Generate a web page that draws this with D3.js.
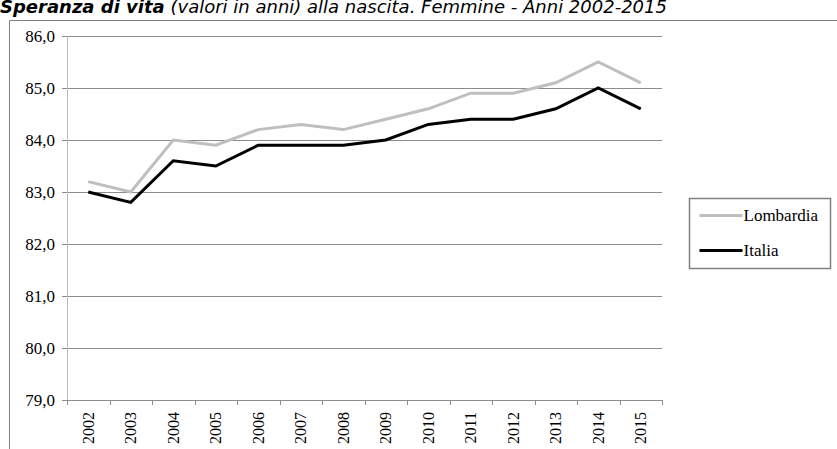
<!DOCTYPE html>
<html>
<head>
<meta charset="utf-8">
<script src="https://cdn.jsdelivr.net/npm/d3@7"></script>
<style>
  body { margin: 0; background: #fff; }
  svg { display: block; }
</style>
</head>
<body>
<div id="chart"></div>
<script>
// data
var years = ["2002", "2003", "2004", "2005", "2006", "2007", "2008",
  "2009", "2010", "2011", "2012", "2013", "2014", "2015"];
var lombardia = [83.2, 83.0, 84.0, 83.9, 84.2, 84.3, 84.2, 84.4, 84.6, 84.9, 84.9, 85.1, 85.5, 85.1];
var italia = [83.0, 82.8, 83.6, 83.5, 83.9, 83.9, 83.9, 84.0, 84.3, 84.4, 84.4, 84.6, 85.0, 84.6];
var yTicks = [79, 80, 81, 82, 83, 84, 85, 86];
var seriesNames = ["Lombardia", "Italia"];

var svgWidth = 837;
var svgHeight = 449;

var margin = { top: 36, right: 175, bottom: 49, left: 67 };
var width = svgWidth - margin.left - margin.right;
var height = svgHeight - margin.top - margin.bottom;

var serif = "'Liberation Serif', 'Times New Roman', serif";

var svg = d3.select("#chart")
  .append("svg")
  .attr("width", svgWidth)
  .attr("height", svgHeight);

// title (top of the letters is cut in the original)
var title = svg.append("text")
  .attr("x", 0)
  .attr("y", 13)
  .attr("font-family", "'DejaVu Sans', Verdana, sans-serif")
  .attr("font-size", 18)
  .attr("font-style", "italic")
  .attr("fill", "#000");
title.append("tspan").attr("font-weight", "bold").text("Speranza di vita");
title.append("tspan").text(" (valori in anni) alla nascita. Femmine - Anni 2002-2015");

// outer frame
svg.append("path")
  .attr("d", "M9.5," + (svgHeight + 5) + "V20.5H" + (svgWidth + 5))
  .attr("fill", "none")
  .attr("stroke", "#808080")
  .attr("stroke-width", 1);

var chartGroup = svg.append("g")
  .attr("transform", `translate(${margin.left}, ${margin.top})`);

var xScale = d3.scaleBand()
  .domain(years)
  .range([0, width])
  .padding(0);

var yScale = d3.scaleLinear()
  .domain([79, 86])
  .range([height, 0]);

// gridlines
chartGroup.append("g")
  .selectAll("line")
  .data(yTicks.slice(1))
  .enter()
  .append("line")
  .attr("x1", 0)
  .attr("x2", width)
  .attr("y1", d => Math.round(yScale(d)) + 0.5)
  .attr("y2", d => Math.round(yScale(d)) + 0.5)
  .attr("stroke", "#8c8c8c")
  .attr("stroke-width", 1);

// y axis
var leftAxis = d3.axisLeft(yScale)
  .tickValues(yTicks)
  .tickSize(5)
  .tickPadding(7)
  .tickFormat(d => d3.format(".1f")(d).replace(".", ","));

var yAxis = chartGroup.append("g")
  .call(leftAxis)
  .attr("font-family", serif)
  .attr("font-size", 17);
yAxis.select(".domain").attr("stroke", "#bfbfbf");
yAxis.selectAll(".tick line").attr("stroke", "#8c8c8c");
yAxis.selectAll("text").attr("fill", "#000");

// x axis
var bottomAxis = d3.axisBottom(xScale)
  .tickSize(0)
  .tickPadding(0);

var xAxis = chartGroup.append("g")
  .attr("transform", `translate(0, ${height})`)
  .call(bottomAxis)
  .attr("font-family", serif)
  .attr("font-size", 16);
xAxis.select(".domain").attr("stroke", "#8c8c8c");
xAxis.selectAll("text")
  .attr("transform", "rotate(-90)")
  .attr("x", -12)
  .attr("y", 0)
  .attr("dy", "0.35em")
  .style("text-anchor", "end")
  .attr("fill", "#000");

// tick marks between the categories
chartGroup.append("g")
  .selectAll("line")
  .data(d3.range(years.length + 1))
  .enter()
  .append("line")
  .attr("x1", i => Math.round(i * xScale.step()) + 0.5)
  .attr("x2", i => Math.round(i * xScale.step()) + 0.5)
  .attr("y1", height)
  .attr("y2", height + 5)
  .attr("stroke", "#8c8c8c");

// lines
var lineGen = d3.line()
  .x((d, i) => xScale(years[i]) + xScale.bandwidth() / 2)
  .y(d => yScale(d));

chartGroup.append("path")
  .datum(lombardia)
  .attr("d", lineGen)
  .attr("fill", "none")
  .attr("stroke", "#bfbfbf")
  .attr("stroke-width", 3);

chartGroup.append("path")
  .datum(italia)
  .attr("d", lineGen)
  .attr("fill", "none")
  .attr("stroke", "#000")
  .attr("stroke-width", 3);

// legend
var legend = svg.append("g")
  .attr("transform", "translate(689.5, 198.5)");

legend.append("rect")
  .attr("width", 141)
  .attr("height", 70)
  .attr("fill", "#fff")
  .attr("stroke", "#808080")
  .attr("stroke-width", 1.5);

var colors = ["#bfbfbf", "#000"];
var legendItems = legend.selectAll(".item")
  .data(seriesNames)
  .enter()
  .append("g")
  .attr("class", "item")
  .attr("transform", (d, i) => `translate(0, ${17 + i * 35})`);

legendItems.append("line")
  .attr("x1", 10)
  .attr("x2", 53)
  .attr("stroke", (d, i) => colors[i])
  .attr("stroke-width", 3);

legendItems.append("text")
  .attr("x", 54)
  .attr("dy", "0.35em")
  .attr("font-family", serif)
  .attr("font-size", 17)
  .text(d => d);
</script>
</body>
</html>
